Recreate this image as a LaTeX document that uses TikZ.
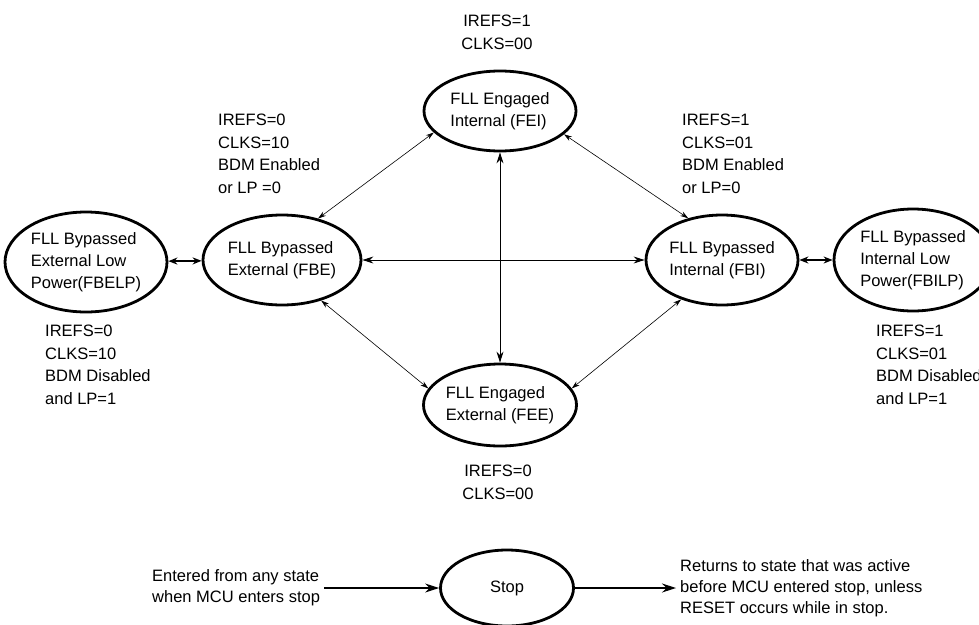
\documentclass[tikz,border=0pt]{standalone}
\usepackage{fontspec}
\setmainfont{Liberation Sans}
\usetikzlibrary{arrows.meta,shapes.geometric}
\tikzset{
  mode/.style={draw,ellipse,line width=2.8pt,inner sep=0pt,align=left,
    font=\fontsize{16.5}{22}\selectfont},
  regs/.style={inner sep=0pt,align=left,font=\fontsize{16.5}{22.5}\selectfont},
  note/.style={inner sep=0pt,align=left,font=\fontsize{16.5}{21}\selectfont},
  link/.style={{Stealth[length=8pt,width=5pt]}-{Stealth[length=8pt,width=5pt]},line width=.6pt},
  bus/.style={{Stealth[length=11pt,width=7pt]}-{Stealth[length=11pt,width=7pt]},line width=1pt},
  lowp/.style={{Stealth[length=9pt,width=7pt]}-{Stealth[length=9pt,width=7pt]},line width=1.8pt},
  flow/.style={-{Stealth[length=14pt,width=9pt]},line width=1.2pt},
}
\begin{document}
\begin{tikzpicture}[x=1pt,y=-1pt]
\useasboundingbox (0,0) rectangle (979,624);
% states
\node[mode,minimum width=152,minimum height=80] (fei) at (500,111) {FLL Engaged\\Internal (FEI)};
\node[mode,minimum width=158,minimum height=90] (fbe) at (282,260) {FLL Bypassed\\External (FBE)};
\node[mode,minimum width=152,minimum height=90] (fbi) at (722,260) {FLL Bypassed\\Internal (FBI)};
\node[mode,minimum width=148,minimum height=82] (fee) at (500,405) {FLL Engaged\\External (FEE)};
\node[mode,minimum width=162,minimum height=100] (fbelp) at (86,262) {FLL Bypassed\\External Low\\Power(FBELP)};
\node[mode,minimum width=158,minimum height=102] (fbilp) at (913,260) {FLL Bypassed\\Internal Low\\Power(FBILP)};
\node[mode,minimum width=133,minimum height=76,align=center] (stop) at (507,588) {Stop};
% register settings
\node[regs,anchor=north,align=center] (feiregs) at (497,15) {IREFS=1\\CLKS=00};
\node[regs,anchor=north west] (fberegs) at (218,114) {IREFS=0\\CLKS=10\\BDM Enabled\\or LP =0};
\node[regs,anchor=north west] (fbiregs) at (682,114) {IREFS=1\\CLKS=01\\BDM Enabled\\or LP=0};
\node[regs,anchor=north west] (fbelpregs) at (45,325) {IREFS=0\\CLKS=10\\BDM Disabled\\and LP=1};
\node[regs,anchor=north west] (fbilpregs) at (876,325) {IREFS=1\\CLKS=01\\BDM Disabled\\and LP=1};
\node[regs,anchor=north,align=center] (feeregs) at (498,465) {IREFS=0\\CLKS=00};
% transitions
\draw[link] (fei.198) -- (fbe.49);
\draw[link] (fei.340) -- (fbi.129);
\draw[link] (fbe.314) -- (fee.167);
\draw[link] (fbi.224) -- (fee.13);
\draw[bus] (fbe) -- (fbi);
\draw[bus] (fei) -- (fee);
\draw[lowp] (fbelp) -- (fbe);
\draw[lowp] (fbi) -- (fbilp);
% stop mode
\node[note,anchor=west,inner sep=4pt] (entertxt) at (148,588) {Entered from any state\\when MCU enters stop};
\node[note,anchor=west,inner sep=4pt] (returntxt) at (676,588) {Returns to state that was active\\before MCU entered stop, unless\\RESET occurs while in stop.};
\draw[flow] (entertxt) -- (stop);
\draw[flow] (stop) -- (returntxt);
\end{tikzpicture}
\end{document}
